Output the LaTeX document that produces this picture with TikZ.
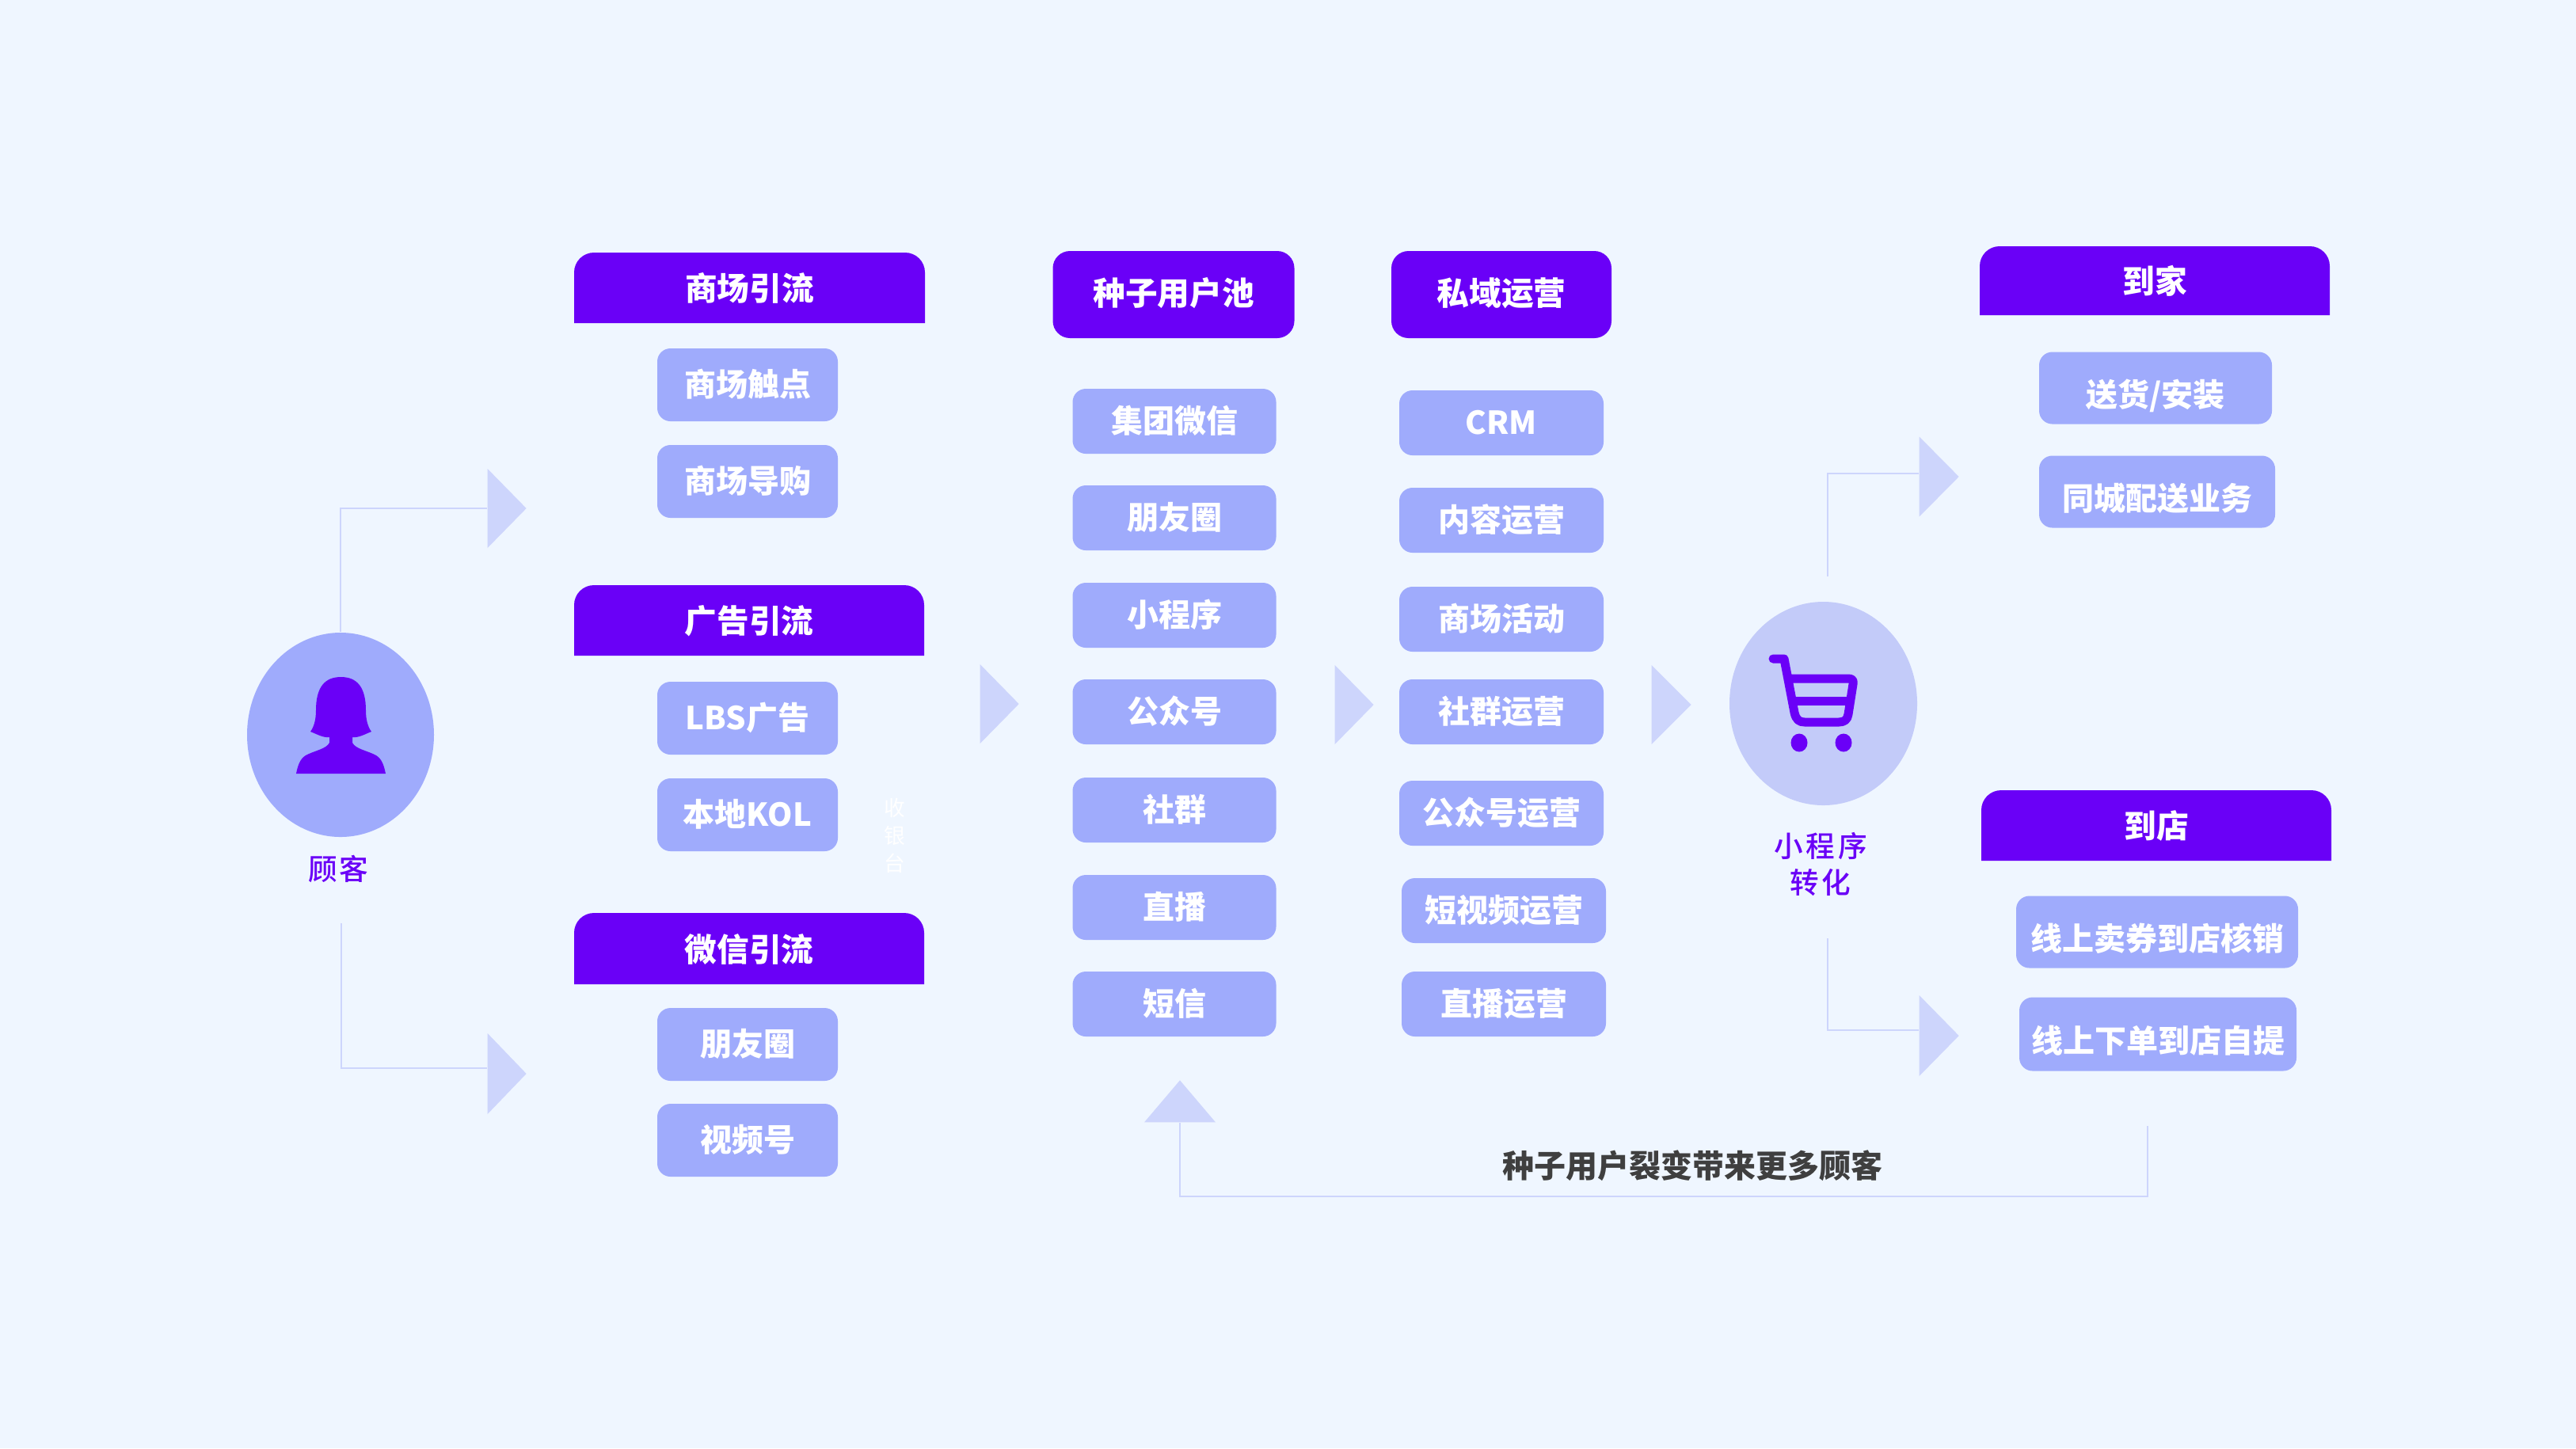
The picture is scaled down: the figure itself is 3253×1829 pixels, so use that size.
\documentclass[tikz,border=0pt]{standalone}
\usepackage{fontspec}
\setmainfont{Noto Sans CJK SC}
\newfontfamily\medfont{Noto Sans CJK SC Medium}
\usepackage{tikz}
\usetikzlibrary{shapes.geometric}
\definecolor{pagebg}{HTML}{EFF6FF}
\definecolor{deep}{HTML}{6A00F7}
\definecolor{chipblue}{HTML}{9FABFC}
\definecolor{pale}{HTML}{CDD5FC}
\definecolor{cartbg}{HTML}{C3CBF9}
\definecolor{inkgray}{HTML}{3F3F3F}
\tikzset{
  chip/.style n args={2}{rectangle,fill=chipblue,rounded corners=5pt,inner sep=0pt,minimum width=#1*.3pt,minimum height=#2*.3pt,text=white,font=\fontsize{12}{14}\selectfont\bfseries,text height=.96em,text depth=.12em},
  dropped/.style={text height=1.5em},
  pool/.style n args={2}{chip={#1}{#2},fill=deep,rounded corners=6.5pt,font=\fontsize{12.2}{14}\selectfont\bfseries,text height=.9em},
  tabtext/.style={text=white,inner sep=0pt,font=\fontsize{12.2}{14}\selectfont\bfseries,text height=.86em,text depth=.12em,yshift=-1.2pt},
  tabfill/.style={fill=deep},
  tri/.style n args={2}{isosceles triangle,isosceles triangle stretches,fill=pale,inner sep=0pt,minimum width=#2*.3pt,minimum height=#1*.3pt},
  linkline/.style={draw=pale,line width=.75pt},
  disc/.style n args={2}{ellipse,inner sep=0pt,minimum width=#1*.3pt,minimum height=#2*.3pt},
  caption/.style={text=deep,inner sep=0pt,font=\fontsize{11}{14}\medfont,text height=.96em,text depth=.12em}
}
\newcommand{\headtab}[6]{%
  \fill[tabfill] (#2,#5) [rounded corners=7.5pt] -- (#2,#4) -- (#3,#4) [sharp corners] -- (#3,#5) -- cycle;
  \node[tabtext] (#1) at ({(#2+#3)/2},{(#4+#5)/2}) {#6};
}
\begin{document}
\begin{tikzpicture}[x=.3pt,y=-.3pt]
\fill[pagebg] (0,0) rectangle (3253,1829);
\useasboundingbox (0,0) rectangle (3253,1829);

\node[disc={236}{258},fill=chipblue] (person) at (430,928) {};
\fill[deep] (430.5,855) .. controls (410,855) and (399,868) .. (399,897) .. controls (399,908) and (397,917) .. (392,924)
.. controls (400,927) and (408,932) .. (416,931) -- (416,938) .. controls (412,946) and (397,948) .. (386,954)
.. controls (378,959) and (376,968) .. (374,977) -- (487,977) .. controls (485,968) and (483,959) .. (475,954)
.. controls (464,948) and (449,946) .. (445,938) -- (445,931) .. controls (453,932) and (461,927) .. (469,924)
.. controls (464,917) and (462,908) .. (462,897) .. controls (462,868) and (451,855) .. (430.5,855) -- cycle;
\node[caption] (personlabel) at (427,1097) {顾\hspace{.06em}客};

\node[tri={49}{100},anchor=lower side] (arrowtop) at (615,642) {};
\node[tri={49}{102},anchor=lower side] (arrowbot) at (615,1356) {};
\coordinate (personfoot) at (431,1166);
\coordinate (arrowbotin) at (615,1349);
\draw[linkline] (person.north) |- (arrowtop.lower side);
\draw[linkline] (personfoot) |- (arrowbotin);

\headtab{malltab}{725}{1168}{319}{408}{商场引流}
\node[chip={228}{92}] (mallspot) at (944,486) {商场触点};
\node[chip={228}{92}] (mallguide) at (944,608) {商场导购};
\headtab{adtab}{725}{1167}{739}{828}{广告引流}
\node[chip={228}{92}] (lbs) at (944,907) {LBS广告};
\node[chip={228}{92}] (kol) at (944,1029) {本地KOL};
\headtab{wxtab}{725}{1167}{1153}{1243}{微信引流}
\node[chip={228}{92}] (moments) at (944,1319) {朋友圈};
\node[chip={228}{92}] (video) at (944,1440) {视频号};
\node[text=white,inner sep=0pt,align=center,font=\fontsize{8}{10.5}\selectfont] (cashier) at (1130,1055) {收\\银\\台};

\node[tri={49}{100},anchor=lower side] (arrowseed) at (1237,889) {};

\node[pool={305}{110}] (seedpool) at (1482,372) {种子用户池};
\node[chip={257}{82}] (seedgroup) at (1483,532) {集团微信};
\node[chip={257}{82}] (seedmoments) at (1483,654) {朋友圈};
\node[chip={257}{82}] (seedmini) at (1483,777) {小程序};
\node[chip={257}{82}] (seedoa) at (1483,899) {公众号};
\node[chip={257}{82}] (seedgroupchat) at (1483,1023) {社群};
\node[chip={257}{82}] (seedlive) at (1483,1146) {直播};
\node[chip={257}{82}] (seedsms) at (1483,1268) {短信};

\node[tri={49}{100},anchor=lower side] (arrowprivate) at (1685,890) {};

\node[pool={278}{110}] (privatepool) at (1896,372) {私域运营};
\node[chip={258}{82}] (crm) at (1896,534) {CRM};
\node[chip={258}{82}] (content) at (1896,657) {内容运营};
\node[chip={258}{82}] (mallevent) at (1896,782) {商场活动};
\node[chip={258}{82}] (community) at (1896,899) {社群运营};
\node[chip={258}{82}] (oaops) at (1896,1027) {公众号运营};
\node[chip={258}{82}] (shortvideo) at (1899,1150) {短视频运营};
\node[chip={258}{82}] (liveops) at (1899,1268) {直播运营};

\node[tri={50}{100},anchor=lower side] (arrowcart) at (2085,890) {};

\node[disc={237}{257},fill=cartbg] (cart) at (2302.5,888.5) {};
\draw[deep,line width=3.3pt,line cap=round,line join=round] (2239,832) -- (2253,832) -- (2266,900) .. controls (2268,909) and (2272,912) .. (2279,912) -- (2322,912) .. controls (2329,912) and (2333,909) .. (2334,902) -- (2340,864) .. controls (2341,859) and (2339,857) .. (2334,857) -- (2260,857);
\draw[deep,line width=3.3pt] (2265,885) -- (2336,885);
\node[disc={21}{23},fill=deep] (wheelleft) at (2272,938) {};
\node[disc={21}{23},fill=deep] (wheelright) at (2328,938) {};
\node[caption] (cartlabela) at (2299,1068) {小\hspace{.1em}程\hspace{.1em}序};
\node[caption] (cartlabelb) at (2299,1114) {转\hspace{.1em}化};

\node[tri={50}{101},anchor=lower side] (arrowhome) at (2423,602) {};
\node[tri={50}{102},anchor=lower side] (arrowstore) at (2423,1308) {};
\coordinate (carttop) at (2308,728);
\coordinate (cartfoot) at (2308,1185);
\coordinate (arrowhomein) at (2423,598);
\coordinate (arrowstorein) at (2423,1301);
\draw[linkline] (carttop) |- (arrowhomein);
\draw[linkline] (cartfoot) |- (arrowstorein);

\headtab{hometab}{2500}{2942}{311}{398}{到家}
\node[chip={294}{91},dropped] (delivery) at (2722,490) {送货/安装};
\node[chip={298}{91},dropped] (citysend) at (2724,621) {同城配送业务};
\headtab{storetab}{2502}{2944}{998}{1087}{到店}
\node[chip={356}{91},dropped] (coupon) at (2724,1177) {线上卖券到店核销};
\node[chip={350}{93},dropped] (pickup) at (2725,1306) {线上下单到店自提};

\node[tri={53}{90},shape border rotate=90,anchor=lower side] (arrowback) at (1490,1418) {};
\coordinate (loopstart) at (2712,1422);
\coordinate (loopcorner) at (1490,1511);
\draw[linkline] (loopstart) |- (loopcorner) -- (arrowback.lower side);
\node[text=inkgray,inner sep=0pt,font=\fontsize{12}{15}\selectfont\bfseries] (looplabel) at (2137,1472) {种子用户裂变带来更多顾客};
\end{tikzpicture}
\end{document}
